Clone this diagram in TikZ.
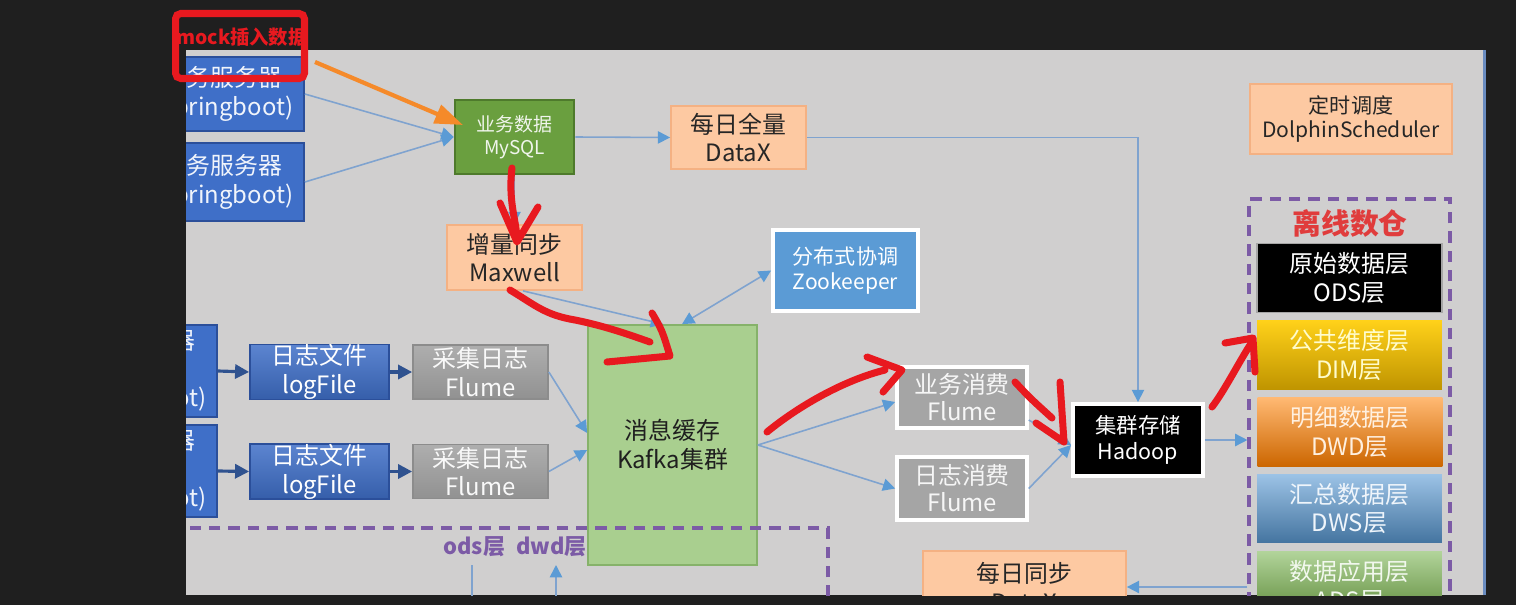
\documentclass[tikz,border=0pt]{standalone}
\usepackage{fontspec}
\setmainfont{Noto Sans CJK SC}
\usepackage{xcolor}
\usepackage{tikz}
\usetikzlibrary{arrows.meta}
\definecolor{screenbg}{HTML}{1F1F1F}
\definecolor{slidegray}{HTML}{D0CFCF}
\definecolor{srvblue}{HTML}{3F6FC8}
\definecolor{srvedge}{HTML}{2B4F9A}
\definecolor{dbgreen}{HTML}{6A9F3F}
\definecolor{dbedge}{HTML}{4E7A2C}
\definecolor{peach}{HTML}{FDC9A2}
\definecolor{peachedge}{HTML}{F4B183}
\definecolor{zkblue}{HTML}{5B9BD5}
\definecolor{kafkagreen}{HTML}{A9CF8F}
\definecolor{kafkaedge}{HTML}{86B26A}
\definecolor{flumegray}{HTML}{A5A5A5}
\definecolor{dwpurple}{HTML}{7C5BA6}
\definecolor{dwred}{HTML}{E03C3C}
\definecolor{penred}{HTML}{E8191F}
\definecolor{penorange}{HTML}{F58A2A}
\definecolor{linkblue}{HTML}{7FA3CF}
\definecolor{tipblue}{HTML}{5B9BD5}
\definecolor{logblue}{HTML}{2F528F}
\definecolor{edgeblue}{HTML}{6A8CC0}
\tikzset{
  fsz/.style 2 args={font=\fontsize{#1}{#2}\selectfont},
  box/.style={rectangle, align=center, inner sep=0pt, line width=1pt},
  srvbox/.style={box, fill=srvblue, draw=srvedge, text=white!92!srvblue,
    minimum width=3.26cm, fsz={13.6}{16.4}},
  peachbox/.style={box, fill=peach, draw=peachedge, text=black!85, fsz={13.6}{16.2}},
  logfilebox/.style={box, top color=srvblue!85!white, bottom color=srvblue!85!black,
    draw=srvedge, text=white, minimum width=2.78cm, minimum height=1.08cm, fsz={13.6}{16.4}},
  flumebox/.style={box, top color=flumegray!90!white, bottom color=flumegray!88!black,
    draw=flumegray!85!black, text=white!95!gray, minimum width=2.7cm,
    minimum height=1.08cm, fsz={13.6}{16.2}},
  consbox/.style={box, fill=flumegray, draw=white, line width=2pt, text=white!93!gray,
    minimum width=2.6cm, fsz={13.6}{15.3}},
  layer/.style={box, minimum width=3.7cm, minimum height=1.38cm, fsz={13.6}{16.4}},
  link/.style={draw=linkblue, line width=0.9pt, -{Triangle[length=7pt,width=7pt,color=tipblue]}},
  link2/.style={link, {Triangle[length=7pt,width=7pt,color=tipblue]}-{Triangle[length=7pt,width=7pt,color=tipblue]}},
  loglink/.style={draw=logblue, line width=1.8pt, -{Triangle[length=8pt,width=8pt]}},
  pen/.style={draw=penred, line width=4pt, line cap=round, line join=round},
  dwframe/.style={draw=dwpurple, line width=1.8pt, dash pattern=on 6.5pt off 4.5pt},
}
\begin{document}
\begin{tikzpicture}[x=0.02cm, y=-0.02cm]
  \useasboundingbox (0,0) rectangle (1516,605);
  \fill[screenbg] (0,0) rectangle (1516,605);
  \begin{scope}
    \clip (186,50) rectangle (1483,595);
    \fill[slidegray] (186,50) rectangle (1483,595);
    % business side
    \node[srvbox, minimum height=1.48cm] (srvA) at (222.5,94) {业务服务器\\(Springboot)};
    \node[srvbox, minimum height=1.56cm] (srvB) at (222.5,182) {业务服务器\\(Springboot)};
    \node[box, fill=dbgreen, draw=dbedge, line width=1.5pt, text=white!90!dbgreen,
          minimum width=2.38cm, minimum height=1.48cm, fsz={10.8}{13}] (mysql) at (514.5,137) {业务数据\\MySQL};
    \node[peachbox, minimum width=2.7cm, minimum height=1.26cm] (datax) at (738.5,137.5) {每日全量\\DataX};
    \node[peachbox, minimum width=2.7cm, minimum height=1.3cm] (maxwell) at (514.5,257.5) {增量同步\\Maxwell};
    \node[box, fill=zkblue, draw=white, line width=2.2pt, text=white,
          minimum width=2.9cm, minimum height=1.62cm, fsz={12}{14.2}] (zk) at (845.5,270.5) {分布式协调\\Zookeeper};
    \node[box, fill=kafkagreen, draw=kafkaedge, text=black!88,
          minimum width=3.38cm, minimum height=4.8cm, fsz={13.6}{16.4}] (kafka) at (672.5,445) {消息缓存\\Kafka集群};
    % log side
    \node[srvbox, minimum height=1.84cm] (logsrvA) at (135.5,371) {日志服务器\\[16.4pt](Springboot)};
    \node[srvbox, minimum height=1.84cm] (logsrvB) at (135.5,471) {日志服务器\\[16.4pt](Springboot)};
    \node[logfilebox] (logfileA) at (319.5,372) {日志文件\\logFile};
    \node[logfilebox] (logfileB) at (319.5,471.5) {日志文件\\logFile};
    \node[flumebox] (flumeA) at (480.5,372) {采集日志\\Flume};
    \node[flumebox] (flumeB) at (480.5,471.5) {采集日志\\Flume};
    % consumers and storage
    \node[consbox, minimum height=1.22cm] (bizflume) at (962,397.5) {业务消费\\Flume};
    \node[consbox, minimum height=1.26cm] (logflume) at (962,488.5) {日志消费\\Flume};
    \node[box, fill=black, draw=white, line width=2.2pt, text=white,
          minimum width=2.6cm, minimum height=1.44cm, fsz={12.2}{14.7}] (hadoop) at (1138,440) {集群存储\\Hadoop};
    \node[peachbox, minimum width=4.06cm, minimum height=1.44cm] (syncx) at (1024.5,587) {每日同步\\DataX};
    \node[peachbox, minimum width=4.04cm, minimum height=1.4cm, fsz={12}{14.2}] (dolphin) at (1351,119) {定时调度\\DolphinScheduler};
    % offline warehouse
    \node[dwframe, minimum width=4.02cm, minimum height=8.84cm] (dw) at (1349.5,420) {};
    \node[text=dwred, font=\fontsize{16.4}{18}\selectfont\bfseries] (dwtitle) at (1350,223) {离线数仓};
    \node[layer, fill=black, draw=gray!70, text=white] (ods) at (1349.5,278) {原始数据层\\ODS层};
    \node[layer, top color=yellow!60!orange!90!white, bottom color=yellow!55!orange!75!black,
          text=yellow!20!white] (dim) at (1349.5,355) {公共维度层\\DIM层};
    \node[layer, top color=orange!55!white, bottom color=orange!80!black,
          text=orange!12!white] (dwd) at (1350,432) {明细数据层\\DWD层};
    \node[layer, top color=zkblue!60!white, bottom color=zkblue!75!black,
          text=zkblue!10!white] (dws) at (1349.5,508.5) {汇总数据层\\DWS层};
    \node[layer, top color=kafkagreen!90!white, bottom color=dbgreen!85!black,
          text=kafkagreen!15!white] (ads) at (1349.5,586) {数据应用层\\ADS层};
    % connectors
    \draw[link] (srvA.east) -- (mysql.west);
    \draw[link] (srvB.east) -- (mysql.west);
    \draw[link] (mysql.east) -- (datax.west);
    \draw[link] (mysql.south) -- (maxwell.north);
    \draw[link] (datax.east) -| (hadoop.north);
    \draw[link] ([xshift=0.17cm]maxwell.south) -- ([xshift=-0.19cm]kafka.north);
    \draw[link2] ([xshift=0.19cm]kafka.north) -- (zk.west);
    \draw[loglink] (logsrvA.east) -- (logfileA.west);
    \draw[loglink] (logfileA.east) -- (flumeA.west);
    \draw[loglink] (logsrvB.east) -- (logfileB.west);
    \draw[loglink] (logfileB.east) -- (flumeB.west);
    \draw[link] (flumeA.east) -- ([yshift=0.24cm]kafka.west);
    \draw[link] (flumeB.east) -- ([yshift=-0.1cm]kafka.west);
    \draw[link] (kafka.east) -- ([yshift=-0.09cm]bizflume.west);
    \draw[link] (kafka.east) -- (logflume.west);
    \draw[link] ([yshift=-0.45cm]bizflume.east) -- ([yshift=-0.1cm]hadoop.west);
    \draw[link] (logflume.east) -- ([yshift=-0.1cm]hadoop.west);
    \draw[link] (hadoop.east) -- (hadoop.east -| dw.west);
    \draw[link] (dw.west |- syncx.east) -- (syncx.east);
    % ods / dwd frame
    \node[dwframe, minimum width=14.56cm, minimum height=3.44cm] (odsframe) at (464,614) {};
    \node[text=dwpurple, font=\fontsize{12.5}{14}\selectfont\bfseries] (odslbl) at (515,547) {ods层\enspace dwd层};
    \coordinate (odsout) at (472,640);
    \coordinate (odsin) at (556,640);
    \draw[draw=linkblue, line width=0.9pt] (odsout |- 0,565) -- (odsout);
    \draw[link] (odsin) -- (odsin |- 0,565);
  \end{scope}
  \draw[edgeblue, line width=2pt] (1484.5,50) -- (1484.5,595);
  % annotations
  \node[draw=penred, line width=4pt, rounded corners=3pt,
        minimum width=2.58cm, minimum height=1.3cm] (mockbox) at (240,46) {};
  \node[text=penred, font=\fontsize{11}{13}\selectfont\bfseries] (mocklbl) at (242,37) {mock插入数据};
  \draw[penorange, line width=2.4pt, -{Triangle[length=16pt,width=11pt]}] (315,62) -- (463,125);
  \draw[pen] (512,168) .. controls (508,200) and (516,220) .. (517,238);
  \draw[pen] (500,203) -- (517,242) -- (538,207);
  \draw[pen] (510,290) .. controls (535,305) and (545,315) .. (575,320)
             .. controls (605,326) and (630,335) .. (650,342);
  \draw[pen] (652,313) .. controls (662,330) .. (670,356) -- (607,362);
  \draw[pen] (767,432) .. controls (800,405) and (845,380) .. (885,370);
  \draw[pen] (867,357) -- (902,370) -- (883,392);
  \draw[pen] (1015,382) .. controls (1030,398) .. (1052,418);
  \draw[pen] (1036,423) -- (1064,442) -- (1060,382);
  \draw[pen] (1212,407) .. controls (1225,390) and (1240,360) .. (1252,342);
  \draw[pen] (1225,343) -- (1253,338) -- (1255,372);
\end{tikzpicture}
\end{document}
